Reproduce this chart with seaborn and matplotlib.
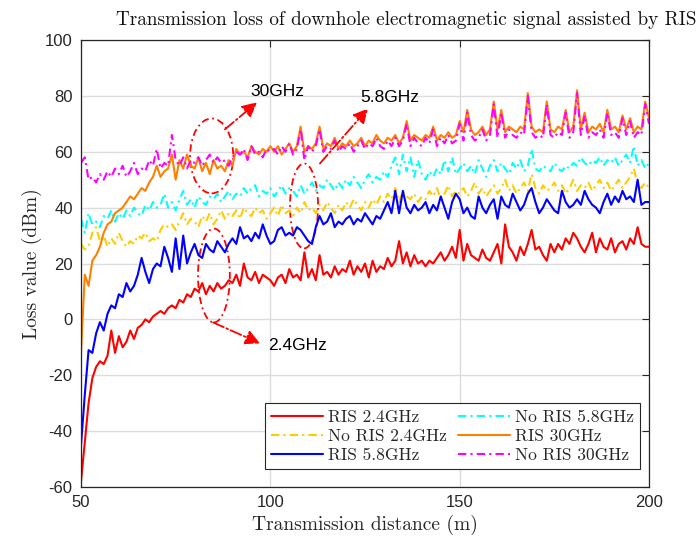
import numpy as np
import pandas as pd
import matplotlib
matplotlib.use("Agg")
import matplotlib.pyplot as plt
import seaborn as sns
from matplotlib.patches import Ellipse

# ---------------- data ----------------
distance = list(range(50, 201))

ris_24 = [
    -58, -44, -30, -21, -17, -15, -16, -13, -4, -12,
    -6, -10, -8, -4, -7, -3, -2, 0, -1, 1,
    2, 3, 2, 4, 5, 4, 7, 6, 9, 8,
    11, 10, 13, 9, 12, 10, 13, 11, 12, 14,
    13, 16, 12, 20, 15, 14, 17, 13, 16, 15,
    14, 12, 15, 16, 13, 18, 15, 16, 14, 24,
    15, 18, 14, 23, 16, 17, 15, 19, 16, 18,
    17, 21, 16, 19, 17, 20, 15, 21, 17, 19,
    18, 22, 19, 21, 28, 20, 24, 19, 23, 20,
    21, 19, 21, 20, 22, 24, 21, 23, 26, 22,
    32, 21, 27, 23, 22, 21, 25, 22, 21, 24,
    27, 20, 34, 26, 24, 21, 26, 23, 27, 32,
    25, 26, 23, 21, 27, 24, 27, 25, 29, 27,
    31, 29, 26, 24, 27, 31, 24, 29, 26, 25,
    29, 24, 27, 28, 25, 29, 27, 33, 27, 26,
    26]

noris_24 = [
    27, 25, 26, 31, 33, 28, 30, 26, 29, 27,
    31, 28, 26, 28, 27, 30, 29, 31, 28, 29,
    28, 32, 34, 33, 34, 32, 35, 38, 34, 36,
    35, 33, 37, 35, 38, 34, 36, 39, 36, 38,
    37, 39, 36, 40, 38, 37, 40, 38, 39, 36,
    38, 40, 37, 41, 38, 39, 37, 40, 38, 42,
    39, 40, 38, 41, 39, 42, 40, 38, 41, 39,
    42, 40, 43, 41, 39, 42, 40, 43, 41, 44,
    42, 45, 43, 47, 42, 46, 44, 43, 45, 42,
    44, 43, 46, 44, 47, 43, 45, 48, 44, 46,
    45, 47, 44, 46, 49, 45, 47, 44, 46, 48,
    45, 47, 50, 46, 48, 45, 47, 49, 46, 52,
    47, 45, 48, 46, 47, 49, 46, 48, 45, 47,
    50, 46, 48, 47, 49, 46, 48, 50, 47, 49,
    46, 48, 50, 47, 49, 51, 54, 48, 47, 49,
    47]

ris_58 = [
    -45, -27, -11, -12, -5, -1, -4, 2, 5, 4,
    9, 8, 13, 10, 12, 16, 22, 17, 13, 18,
    20, 19, 26, 22, 17, 29, 18, 30, 20, 24,
    27, 23, 22, 27, 25, 24, 28, 26, 24, 27,
    29, 27, 33, 29, 30, 28, 31, 29, 34, 30,
    27, 28, 32, 33, 30, 31, 30, 33, 32, 30,
    28, 27, 33, 37, 34, 35, 38, 33, 35, 34,
    36, 37, 34, 36, 35, 38, 36, 34, 37, 36,
    39, 42, 38, 46, 38, 46, 40, 38, 41, 39,
    40, 42, 38, 41, 39, 44, 40, 36, 42, 45,
    43, 38, 40, 37, 36, 44, 40, 38, 41, 43,
    36, 44, 41, 40, 45, 42, 39, 41, 45, 47,
    42, 38, 40, 43, 41, 39, 38, 46, 42, 40,
    41, 43, 41, 46, 43, 41, 40, 38, 42, 45,
    41, 44, 42, 46, 43, 44, 42, 50, 41, 42,
    42]

noris_58 = [
    36, 31, 38, 34, 35, 33, 37, 36, 39, 35,
    38, 36, 39, 37, 40, 38, 37, 41, 39, 42,
    40, 41, 45, 40, 42, 39, 43, 46, 41, 43,
    40, 44, 42, 41, 44, 43, 45, 42, 44, 46,
    43, 45, 44, 47, 45, 47, 48, 44, 46, 45,
    47, 44, 46, 48, 45, 47, 46, 44, 48, 45,
    47, 49, 46, 48, 47, 50, 48, 46, 49, 47,
    50, 48, 51, 49, 47, 50, 52, 49, 51, 50,
    53, 51, 55, 58, 52, 59, 53, 58, 51, 57,
    52, 50, 53, 51, 54, 52, 57, 53, 58, 52,
    54, 56, 53, 55, 52, 57, 54, 51, 55, 57,
    53, 56, 54, 52, 56, 54, 57, 53, 55, 61,
    54, 53, 55, 54, 53, 56, 54, 53, 55, 54,
    56, 55, 58, 56, 55, 57, 56, 58, 55, 57,
    56, 58, 55, 57, 59, 56, 62, 55, 57, 54,
    56]

ris_30 = [
    -12, 16, 12, 21, 23, 26, 31, 34, 35, 38,
    39, 40, 42, 44, 43, 45, 47, 46, 49, 51,
    55, 51, 53, 54, 59, 50, 57, 54, 59, 55,
    54, 58, 53, 56, 52, 57, 54, 55, 53, 57,
    55, 61, 59, 60, 58, 62, 60, 59, 61, 60,
    62, 60, 62, 59, 61, 63, 60, 62, 69, 60,
    62, 61, 63, 69, 61, 63, 62, 65, 61, 63,
    62, 64, 62, 63, 65, 62, 64, 63, 66, 64,
    63, 65, 64, 66, 63, 65, 71, 64, 66, 65,
    64, 66, 65, 69, 64, 66, 65, 67, 65, 66,
    71, 67, 75, 68, 66, 67, 69, 66, 68, 78,
    68, 75, 67, 69, 68, 67, 69, 68, 81, 69,
    67, 68, 67, 78, 68, 67, 69, 68, 75, 67,
    69, 82, 68, 74, 67, 69, 68, 70, 67, 75,
    68, 69, 67, 73, 68, 72, 67, 69, 68, 78,
    72]

noris_30 = [
    56, 58, 50, 51, 49, 52, 50, 53, 51, 54,
    52, 55, 51, 53, 56, 52, 54, 53, 57, 55,
    61, 54, 56, 55, 66, 57, 55, 58, 54, 57,
    56, 58, 55, 57, 59, 56, 58, 56, 57, 55,
    58, 60, 59, 61, 57, 62, 59, 60, 58, 61,
    60, 61, 59, 62, 60, 63, 59, 61, 68, 57,
    62, 60, 62, 68, 60, 62, 61, 64, 60, 62,
    61, 63, 60, 62, 64, 61, 63, 62, 65, 62,
    61, 64, 62, 65, 62, 64, 70, 62, 65, 63,
    62, 65, 63, 68, 62, 65, 63, 66, 63, 64,
    70, 64, 74, 66, 64, 65, 68, 64, 66, 77,
    65, 74, 65, 68, 66, 65, 67, 66, 80, 67,
    65, 66, 65, 77, 66, 65, 67, 66, 74, 65,
    67, 81, 66, 73, 65, 67, 66, 68, 65, 74,
    66, 67, 65, 72, 66, 71, 65, 67, 66, 77,
    70]

labels = ["RIS 2.4GHz", "No RIS 2.4GHz", "RIS 5.8GHz",
          "No RIS 5.8GHz", "RIS 30GHz", "No RIS 30GHz"]
series = [ris_24, noris_24, ris_58, noris_58, ris_30, noris_30]

x_ticks = [50, 100, 150, 200]
y_ticks = [-60, -40, -20, 0, 20, 40, 60, 80, 100]

# ---------------- style ----------------
sns.set_theme(style="white")
plt.rcParams["font.family"] = ["Liberation Sans", "DejaVu Sans"]
plt.rcParams["axes.unicode_minus"] = False

colors = ["#ff0000", "#ffcc00", "#0000ff", "#00ffff", "#ff8000", "#ff00ff"]
dashdot = (0, (4, 2, 1, 2))
styles = ["-", dashdot, "-", dashdot, "-", dashdot]

fig = plt.figure(figsize=(6.99, 5.39), dpi=100)
ax = fig.add_axes([81 / 699, 1 - 487 / 539, 568 / 699, 447 / 539])

for lab, vals, c, ls in zip(labels, series, colors, styles):
    df = pd.DataFrame({"d": distance, "v": vals})
    sns.lineplot(data=df, x="d", y="v", ax=ax, color=c, lw=1.5,
                 linestyle=ls, label=lab, estimator=None)

ax.set_xlim(50, 200)
ax.set_ylim(-60, 100)
ax.set_xticks(x_ticks)
ax.set_yticks(y_ticks)
ax.tick_params(direction="in", length=5, width=0.8, top=True, right=True,
               labelsize=12, colors="#262626", pad=6)
for lab in ax.get_xticklabels() + ax.get_yticklabels():
    lab.set_color("#262626")
ax.grid(True, color="#dcdcdc", lw=1.0)
ax.set_axisbelow(True)
for s in ax.spines.values():
    s.set_color("#262626")
    s.set_linewidth(0.9)

serif = "cmr10"
ax.set_xlabel("Transmission distance (m)", fontsize=14, family=serif,
              color="#262626", labelpad=3)
ax.set_ylabel("Loss value (dBm)", fontsize=14, family=serif,
              color="#262626", labelpad=2)
ax.text(0.572, 1.045, "Transmission loss of downhole electromagnetic signal assisted by RIS",
        transform=ax.transAxes, ha="center", va="center", fontsize=13.8,
        family=serif, color="#111111")

leg = ax.legend(loc="lower right", bbox_to_anchor=(0.984, 0.04), ncol=2,
                prop={"family": serif, "size": 12.5},
                frameon=True, fancybox=False, borderaxespad=0,
                handlelength=3.0, labelspacing=0.22, columnspacing=0.6,
                handletextpad=0.3, borderpad=0.35)
leg.get_frame().set_edgecolor("#262626")
leg.get_frame().set_linewidth(0.8)
leg.get_frame().set_alpha(1)

# ---------------- annotations ----------------
ann = dict(edgecolor="red", facecolor="none", lw=1.3, linestyle=dashdot)
ax.add_patch(Ellipse((84.5, 58.5), 11.4, 26.8, **ann))
ax.add_patch(Ellipse((108.9, 40.6), 7.4, 30.4, **ann))
ax.add_patch(Ellipse((85.1, 15.7), 8.4, 33.6, **ann))

arrow_kw = dict(arrowstyle="-|>", color="red", lw=1.3, linestyle="-.",
                mutation_scale=22, shrinkA=0, shrinkB=0)
ax.annotate("", xy=(96.5, 77.7), xytext=(88.0, 68.0), arrowprops=arrow_kw)
ax.annotate("", xy=(125.8, 75.5), xytext=(113.1, 55.8), arrowprops=arrow_kw)
ax.annotate("", xy=(97.3, -8.6), xytext=(84.9, -1.1), arrowprops=arrow_kw)

ax.text(94.6, 81.6, "30GHz", fontsize=12.5, va="center", ha="left", color="black")
ax.text(123.7, 79.5, "5.8GHz", fontsize=12.5, va="center", ha="left", color="black")
ax.text(99.4, -9.3, "2.4GHz", fontsize=12.5, va="center", ha="left", color="black")

fig.savefig("out.png", dpi=100)
